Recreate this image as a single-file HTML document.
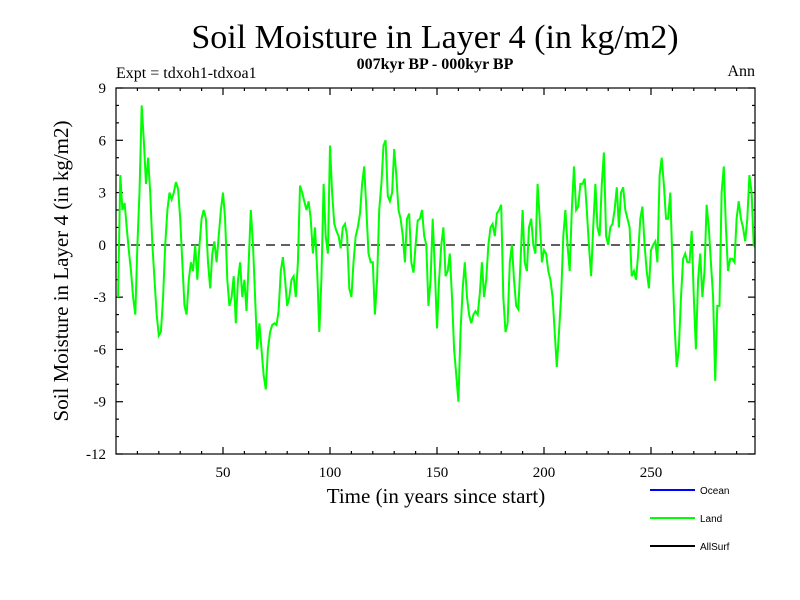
<!DOCTYPE html>
<html><head><meta charset="utf-8"><style>
body{margin:0;background:#fff}
svg{display:block;font-family:"Liberation Serif",serif}
</style></head><body>
<svg id="c" width="800" height="600" viewBox="0 0 800 600">
<text x="435" y="48" font-size="34" text-anchor="middle">Soil Moisture in Layer 4 (in kg/m2)</text>
<text x="435" y="69" font-size="16" font-weight="bold" text-anchor="middle">007kyr BP - 000kyr BP</text>
<text x="116" y="78" font-size="16">Expt = tdxoh1-tdxoa1</text>
<text x="755" y="76" font-size="16" text-anchor="end">Ann</text>
<text x="436" y="503" font-size="21" text-anchor="middle">Time (in years since start)</text>
<text transform="translate(68,271) rotate(-90)" font-size="21" text-anchor="middle">Soil Moisture in Layer 4 (in kg/m2)</text>
<defs><clipPath id="clip"><rect x="116" y="88" width="639" height="366"/></clipPath></defs>
<g id="axes"></g>
<line x1="116" x2="755" y1="245" y2="245" stroke="#000" stroke-width="1.2" stroke-dasharray="9,6"/>
<path id="land" fill="none" stroke="#00ff00" stroke-width="2" clip-path="url(#clip)"/>
<rect x="116" y="88" width="639" height="366" fill="none" stroke="#000" stroke-width="1.2"/>
<g font-family="Liberation Sans, sans-serif" font-size="10">
<line x1="650" x2="695" y1="490" y2="490" stroke="#0000ff" stroke-width="2"/>
<text x="700" y="494">Ocean</text>
<line x1="650" x2="695" y1="518" y2="518" stroke="#00ff00" stroke-width="2"/>
<text x="700" y="522">Land</text>
<line x1="650" x2="695" y1="546" y2="546" stroke="#000" stroke-width="2"/>
<text x="700" y="550">AllSurf</text>
</g>
</svg>
<script>
const landValues=[-3,4,2,2.4,1,-0.3,-1.5,-3,-4,0,3,8,6,3.5,5,3,0,-2,-4,-5.2,-5,-3,0,2,3,2.6,3,3.6,3.2,1.5,-1,-3.5,-4,-2,-1,-1.5,0,-2,0,1.5,2,1.5,-1,-2.5,-0.5,0.2,-1,0.5,2,3,1.5,-2,-3.5,-3,-1.8,-4.5,-2,-1,-3,-2,-3.8,-1,2,0,-3,-6,-4.5,-6,-7.5,-8.3,-6,-5,-4.6,-4.5,-4.6,-3.8,-1.5,-0.7,-2,-3.5,-3,-2,-1.8,-3,-1,3.4,3,2.5,2,2.5,1.5,-0.5,1,-1.5,-5,-2,3.5,0.5,-0.5,5.7,3,1.2,0.8,0.5,-0.2,1,1.2,0.5,-2.5,-3,-1,0.5,1,1.8,3.5,4.5,2,-0.5,-1,-1,-4,-2,2,3.5,5.7,6,2.8,2.5,3,5.5,4,2,1.5,0.5,-1,1.5,1.8,-1,-1.6,0,1.4,1.5,2,0.5,0,-3.5,-2,1.5,-1.5,-4.8,-2,0,1,-1.8,-1.5,-0.5,-3,-6,-7.5,-9,-5,-2.5,-1,-3,-4,-4.5,-4,-3.8,-4,-2.8,-1,-3,-2,0,1,1.2,0.5,1.8,2,2.3,-3,-5,-4.5,-1,0,-2,-3.5,-3.7,-1,2,-1,-1.5,1,1.5,0,-0.5,3.5,1.5,-1,-0.3,-0.5,-1.5,-2,-3,-5,-7,-5,-3,0.5,2,0,-1.5,2,4.5,2,2.2,3.5,3.5,3.8,2,0,-1.8,1,3.5,1,0.5,3.5,5.3,0.5,0,1,1.2,2,3.3,1,3,3.3,2,1.5,1,-1.8,-1.5,-2,-0.5,1.5,2.2,0,-1.5,-2.5,-0.3,0,0.2,-1,4,5,3.5,1.5,1.5,3,-1,-4.5,-7,-6,-3,-0.8,-0.5,-1,-1,0.8,-3,-6,-2,-0.5,-3,-1.5,2.3,1,-1,-3,-7.8,-3.5,-3.5,3,4.5,1,-1.5,-0.8,-0.8,-1,1.5,2.5,1.5,1,0.2,1.5,4,3,0,-0.2];
const yTickValues=[-12,-9,-6,-3,0,3,6,9];
const xTickValues=[50,100,150,200,250];
const X0=116,X1=755,Y0=88,Y1=454,YMIN=-12,YMAX=9;
const xs=yr=>X0+yr*2.14;
const ys=v=>Y1-(v-YMIN)*(Y1-Y0)/(YMAX-YMIN);
const NS='http://www.w3.org/2000/svg';
const ax=document.getElementById('axes');
function mk(t,a){const e=document.createElementNS(NS,t);for(const k in a)e.setAttribute(k,a[k]);return e;}
let d='';
landValues.forEach((v,i)=>{d+=(i?'L':'M')+xs(i+1).toFixed(1)+','+ys(v).toFixed(1);});
document.getElementById('land').setAttribute('d',d);
for(let v=YMIN;v<=YMAX;v++){
  const y=ys(v),len=(v%3===0)?7:3;
  const l1=mk('line',{x1:X0,x2:X0+len,y1:y,y2:y,stroke:'#000','stroke-width':1.2});
  
  
  ax.appendChild(l1);
  const l2=mk('line',{x1:X1-len,x2:X1,y1:y,y2:y,stroke:'#000','stroke-width':1.2});
  
  
  ax.appendChild(l2);
}
yTickValues.forEach(v=>{
  const t=mk('text',{x:106,y:ys(v)+5,'font-size':15,'text-anchor':'end'});
  t.textContent=v;
  
  
  ax.appendChild(t);
});
for(let yr=10;yr<300;yr+=10){
  const x=xs(yr),len=(yr%50===0)?7:3;
  const b=mk('line',{x1:x,x2:x,y1:Y1,y2:Y1-len,stroke:'#000','stroke-width':1.2});
  
  
  ax.appendChild(b);
  const t2=mk('line',{x1:x,x2:x,y1:Y0,y2:Y0+len,stroke:'#000','stroke-width':1.2});
  
  
  ax.appendChild(t2);
}
xTickValues.forEach(v=>{
  const t=mk('text',{x:xs(v),y:477,'font-size':15,'text-anchor':'middle'});
  t.textContent=v;
  
  
  ax.appendChild(t);
});
</script>
</body></html>
